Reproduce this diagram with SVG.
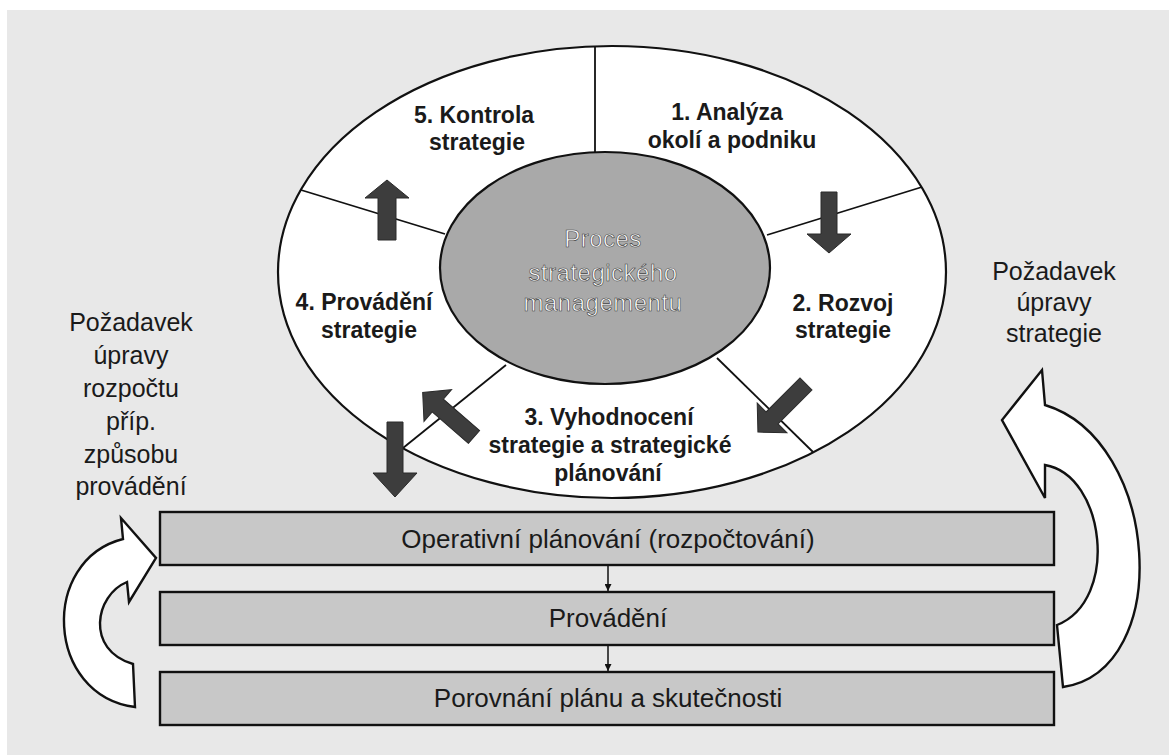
<svg xmlns="http://www.w3.org/2000/svg" width="1169" height="755" viewBox="0 0 1169 755">
<style>
.bg{fill:#e8e8e8}
.outline{stroke:#111;stroke-width:2.2}
.div{stroke:#111;stroke-width:1.8;fill:none}
.lbl{font-family:"Liberation Sans",Arial,sans-serif;font-weight:bold;font-size:23px;fill:#1a1a1a;text-anchor:middle}
.side{font-family:"Liberation Sans",Arial,sans-serif;font-size:25px;fill:#1a1a1a;text-anchor:middle}
.inner{font-family:"Liberation Sans",Arial,sans-serif;font-size:24px;fill:#ffffff;stroke:#3c3c3c;stroke-width:0.6;text-anchor:middle;letter-spacing:0.5px}
.bar{fill:#c8c8c8;stroke:#111;stroke-width:2.4}
.bartxt{font-family:"Liberation Sans",Arial,sans-serif;font-size:26px;fill:#1a1a1a;text-anchor:middle}
.dark{fill:#3d3d3d;stroke:#2a2a2a;stroke-width:1}
.curve{fill:#ffffff;stroke:#111;stroke-width:2.4;stroke-linejoin:miter}
.thin{stroke:#111;stroke-width:1.5;fill:none}
</style>
<defs>
<marker id="ah" viewBox="0 0 10 10" refX="10" refY="5" markerWidth="7" markerHeight="7" markerUnits="userSpaceOnUse" orient="auto">
<path d="M0,0 L10,5 L0,10 Z" fill="#111"/>
</marker>
<path id="diag" d="M0,-8.5 H48 V-21 L68,0 L48,21 V8.5 H0 Z"/>
</defs>
<rect x="0" y="0" width="1169" height="755" fill="#ffffff"/>
<rect class="bg" x="7" y="10" width="1162" height="745"/>

<g id="cycle">
<ellipse class="outline" cx="612" cy="272" rx="334" ry="226" fill="#ffffff"/>
<line class="div" x1="595" y1="46" x2="595" y2="153"/>
<line class="div" x1="767" y1="235" x2="922" y2="187"/>
<line class="div" x1="445" y1="234" x2="301" y2="190"/>
<line class="div" x1="506" y1="365" x2="403" y2="448"/>
<line class="div" x1="717" y1="358" x2="813" y2="452"/>
</g>

<g id="center">
<ellipse class="outline" cx="605" cy="268" rx="165" ry="116" fill="#a9a9a9"/>
<text class="inner" x="603" y="247">Proces</text>
<text class="inner" x="603" y="281">strategického</text>
<text class="inner" x="603" y="311">managementu</text>
</g>

<g id="step1">
<text class="lbl" x="727" y="120">1. Analýza</text>
<text class="lbl" x="732" y="148">okolí a podniku</text>
</g>
<g id="step2">
<text class="lbl" x="843" y="311">2. Rozvoj</text>
<text class="lbl" x="843" y="338">strategie</text>
</g>
<g id="step3">
<text class="lbl" x="609" y="425">3. Vyhodnocení</text>
<text class="lbl" x="610" y="453">strategie a strategické</text>
<text class="lbl" x="608" y="481">plánování</text>
</g>
<g id="step4">
<text class="lbl" x="364" y="310">4. Provádění</text>
<text class="lbl" x="369" y="338">strategie</text>
</g>
<g id="step5">
<text class="lbl" x="474" y="123">5. Kontrola</text>
<text class="lbl" x="477" y="150">strategie</text>
</g>

<g id="bar-operativni">
<rect class="bar" x="160" y="512" width="894" height="53"/>
<text class="bartxt" x="608" y="548">Operativní plánování (rozpočtování)</text>
</g>
<g id="bar-provadeni">
<rect class="bar" x="160" y="592" width="894" height="53"/>
<text class="bartxt" x="608" y="627">Provádění</text>
</g>
<g id="bar-porovnani">
<rect class="bar" x="160" y="672" width="894" height="53"/>
<text class="bartxt" x="608" y="707">Porovnání plánu a skutečnosti</text>
</g>

<g id="label-left">
<text class="side" x="131" y="331">Požadavek</text>
<text class="side" x="131" y="364">úpravy</text>
<text class="side" x="131" y="397">rozpočtu</text>
<text class="side" x="131" y="430">příp.</text>
<text class="side" x="131" y="463">způsobu</text>
<text class="side" x="131" y="495">provádění</text>
</g>
<g id="label-right">
<text class="side" x="1054" y="280">Požadavek</text>
<text class="side" x="1054" y="311">úpravy</text>
<text class="side" x="1054" y="342">strategie</text>
</g>

<g id="connectors">
<path class="dark" d="M821,192 H837 V234 H851 L829,253 L807,234 H821 Z"/>
<use href="#diag" class="dark" transform="translate(806,384) rotate(135)"/>
<use href="#diag" class="dark" transform="translate(474,437) rotate(221)"/>
<path class="dark" d="M378,240 V198 H365 L387,180 L409,198 H396 V240 Z"/>
<path class="dark" d="M387,422 H403 V473 H417 L395,497 L373,473 H387 Z"/>
<line class="thin" x1="608" y1="566" x2="608" y2="591" marker-end="url(#ah)"/>
<line class="thin" x1="608" y1="646" x2="608" y2="671" marker-end="url(#ah)"/>
<path class="curve" d="M123,539 L121,518 L156,558 L129,602 L127,582 C95,595 85,650 133,664 L135,707 C45,695 40,560 123,539 Z"/>
<path class="curve" d="M1045,405 L1042,370 L1002,420 L1045,498 L1045,465 C1105,475 1120,600 1057,625 L1063,687 C1175,670 1160,440 1045,405 Z"/>
</g>
</svg>
